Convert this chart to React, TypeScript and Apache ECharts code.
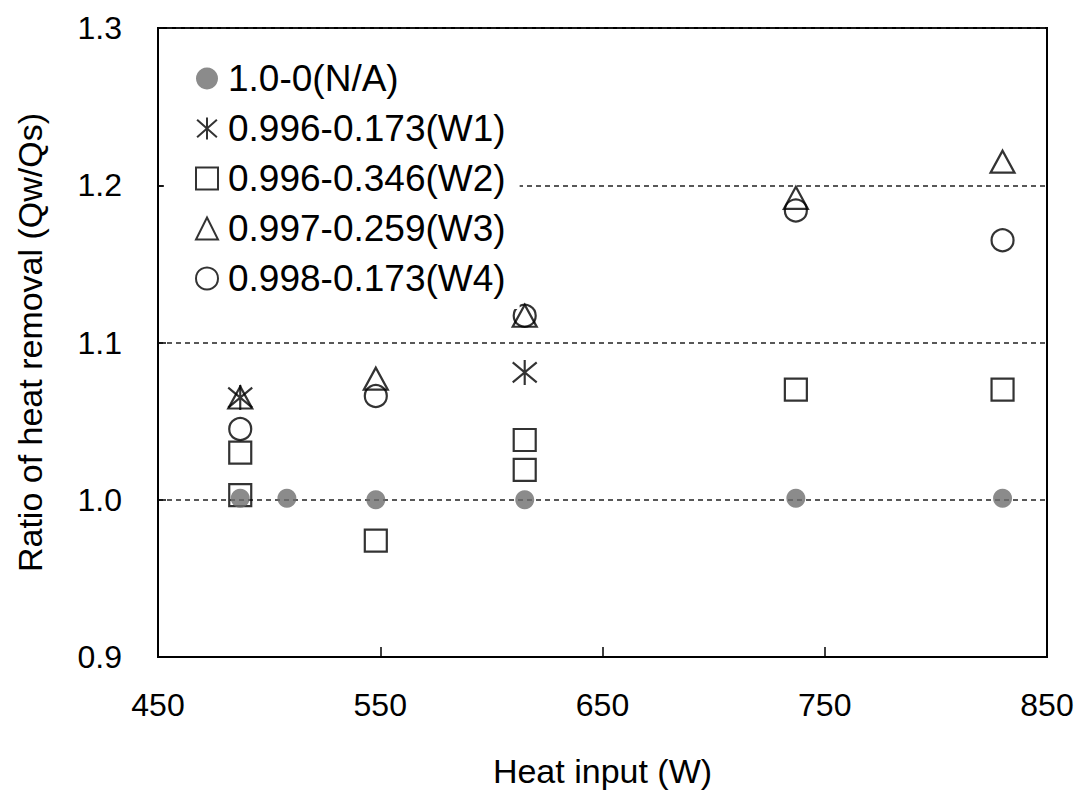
import React, { useEffect, useRef } from "react";
import * as echarts from "echarts";

const xTicks = [450, 550, 650, 750, 850];
const yTicks = [0.9, 1.0, 1.1, 1.2, 1.3];

const seriesNames = [
  "1.0-0(N/A)",
  "0.996-0.173(W1)",
  "0.996-0.346(W2)",
  "0.997-0.259(W3)",
  "0.998-0.173(W4)",
];

const naData: [number, number][] = [
  [487, 1.001],
  [508, 1.001],
  [548, 1.0],
  [615, 1.0],
  [737, 1.001],
  [830, 1.001],
];
const w1Data: [number, number][] = [
  [487, 1.065],
  [615, 1.081],
];
const w2Data: [number, number][] = [
  [487, 1.03],
  [487, 1.003],
  [548, 0.974],
  [615, 1.038],
  [615, 1.019],
  [737, 1.07],
  [830, 1.07],
];
const w3Data: [number, number][] = [
  [487, 1.065],
  [548, 1.077],
  [615, 1.117],
  [737, 1.192],
  [830, 1.215],
];
const w4Data: [number, number][] = [
  [487, 1.045],
  [548, 1.066],
  [615, 1.117],
  [737, 1.184],
  [830, 1.165],
];

const FONT = "'Liberation Sans', Arial, Helvetica, sans-serif";
const ASTERISK = "path://M1 2 L19 18 M19 2 L1 18 M10 0 L10 20";

export default function App() {
  const ref = useRef<HTMLDivElement>(null);
  useEffect(() => {
    if (!ref.current) return;
    const chart = echarts.init(ref.current, null, { renderer: "svg" });
    const hollow = { color: "transparent", borderColor: "#000", borderWidth: 2.2 };
    chart.setOption({
      animation: false,
      backgroundColor: "#fff",
      textStyle: { fontFamily: FONT },
      grid: {
        left: 158,
        right: 30,
        top: 28,
        bottom: 139,
        show: true,
        borderColor: "#000",
        borderWidth: 2,
        backgroundColor: "transparent",
      },
      legend: {
        orient: "vertical",
        left: 164,
        top: 30,
        padding: [30, 14, 12, 31],
        backgroundColor: "#fff",
        itemWidth: 22,
        itemHeight: 22,
        itemGap: 13,
        textStyle: {
          fontSize: 37,
          color: "#000",
          fontFamily: FONT,
          lineHeight: 36,
          padding: [0, 0, 0, 5],
        },
        data: seriesNames,
      },
      xAxis: {
        type: "value",
        min: xTicks[0],
        max: xTicks[xTicks.length - 1],
        interval: 100,
        name: "Heat input (W)",
        nameLocation: "middle",
        nameGap: 97,
        nameTextStyle: { fontSize: 34, color: "#000", fontFamily: FONT },
        axisLine: { show: true, lineStyle: { color: "#000", width: 2 } },
        axisTick: { show: true, inside: true, length: 10, lineStyle: { color: "#000", width: 1.5 } },
        axisLabel: { fontSize: 32, color: "#000", margin: 32, fontFamily: FONT },
        splitLine: { show: false },
      },
      yAxis: {
        type: "value",
        min: yTicks[0],
        max: yTicks[yTicks.length - 1],
        interval: 0.1,
        name: "Ratio of heat removal (Qw/Qs)",
        nameLocation: "middle",
        nameGap: 111,
        nameTextStyle: { fontSize: 34, color: "#000", fontFamily: FONT },
        axisLine: { show: true, lineStyle: { color: "#000", width: 2 } },
        axisTick: { show: true, inside: true, length: 8, lineStyle: { color: "#000", width: 1.5 } },
        axisLabel: {
          fontSize: 32,
          color: "#000",
          margin: 36,
          fontFamily: FONT,
          formatter: (v: number) => v.toFixed(1),
        },
        splitLine: { show: true, lineStyle: { color: "#222", width: 1.5, type: [5, 4] } },
      },
      series: [
        {
          name: seriesNames[1],
          type: "scatter",
          symbol: ASTERISK,
          symbolSize: [24, 25],
          itemStyle: hollow,
          data: w1Data,
          z: 2,
        },
        {
          name: seriesNames[2],
          type: "scatter",
          symbol: "rect",
          symbolSize: 22,
          itemStyle: hollow,
          data: w2Data,
          z: 2,
        },
        {
          name: seriesNames[3],
          type: "scatter",
          symbol: "triangle",
          symbolSize: [24, 22],
          itemStyle: hollow,
          data: w3Data,
          z: 2,
        },
        {
          name: seriesNames[4],
          type: "scatter",
          symbol: "circle",
          symbolSize: 22,
          itemStyle: hollow,
          data: w4Data,
          z: 2,
        },
        {
          name: seriesNames[0],
          type: "scatter",
          symbol: "circle",
          symbolSize: 19,
          itemStyle: { color: "#6e6e6e" },
          data: naData,
          z: 3,
        },
      ],
    });
    return () => chart.dispose();
  }, []);
  return (
    <div
      ref={ref}
      style={{ position: "fixed", left: 0, top: 0, width: 1077, height: 796, background: "#fff" }}
    />
  );
}
